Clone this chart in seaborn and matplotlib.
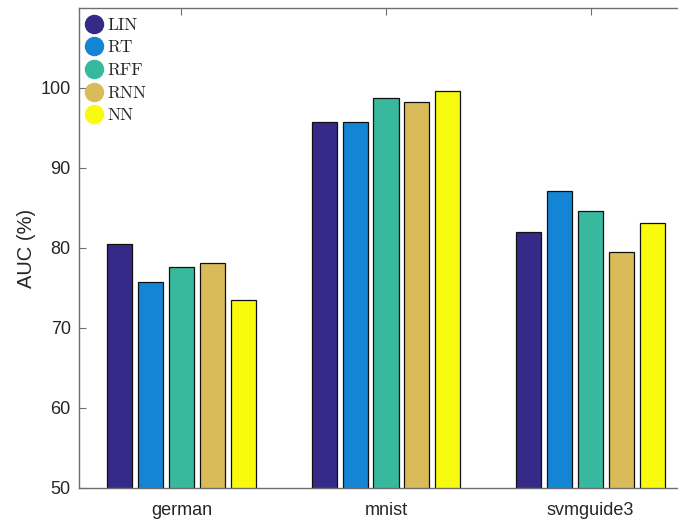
import matplotlib
matplotlib.use("Agg")
import matplotlib.pyplot as plt
from matplotlib.lines import Line2D
import pandas as pd
import seaborn as sns

datasets = ["german", "mnist", "svmguide3"]
methods = ["LIN", "RT", "RFF", "RNN", "NN"]
auc_lin = [80.5, 95.8, 82.0]
auc_rt = [75.8, 95.7, 87.1]
auc_rff = [77.6, 98.8, 84.6]
auc_rnn = [78.1, 98.2, 79.5]
auc_nn = [73.5, 99.6, 83.1]
colors = ["#352a87", "#1485d4", "#38b99e", "#d9bb59", "#f9fb0e"]

rows = []
for m, vals in zip(methods, [auc_lin, auc_rt, auc_rff, auc_rnn, auc_nn]):
    for d, v in zip(datasets, vals):
        rows.append({"dataset": d, "method": m, "auc": v})
df = pd.DataFrame(rows)

sns.set_theme(style="white")
plt.rcParams["font.family"] = ["Liberation Sans", "DejaVu Sans"]

fig = plt.figure(figsize=(6.78, 5.21), dpi=100)
ax = fig.add_axes([79 / 678, 1 - 488 / 521, 614 / 678, 480 / 521])

sns.barplot(data=df, x="dataset", y="auc", hue="method", order=datasets,
            hue_order=methods, palette=colors, saturation=1, width=0.755,
            gap=0.19, edgecolor="#111111", linewidth=0.9, errorbar=None,
            legend=False, ax=ax)

ax.set_xlim(-0.5, 2.5)
ax.set_ylim(50, 110)
ax.set_yticks([50, 60, 70, 80, 90, 100])
ax.set_xlabel("")
ax.set_ylabel("AUC (%)", fontsize=14.5, color="#262626", labelpad=3)
for s in ax.spines.values():
    s.set_color("#6e6e6e")
    s.set_linewidth(1.0)
ax.tick_params(direction="in", length=5, width=0.8, color="#6e6e6e",
               labelsize=13, labelcolor="#262626", top=True, right=True,
               left=True, bottom=True)
ax.tick_params(axis="x", pad=10)
ax.tick_params(axis="y", pad=6)

handles = [Line2D([], [], marker="o", linestyle="none", markersize=13,
                  markerfacecolor=c, markeredgecolor=c) for c in colors]
ax.legend(handles, methods, loc="upper left", bbox_to_anchor=(-0.005, 1),
          frameon=False,
          prop={"family": ["cmr10", "DejaVu Serif"], "size": 12.5},
          handletextpad=0.25, labelspacing=0.42, borderaxespad=0.25,
          handlelength=1.0, borderpad=0.3)

fig.savefig("out.png", dpi=100)
